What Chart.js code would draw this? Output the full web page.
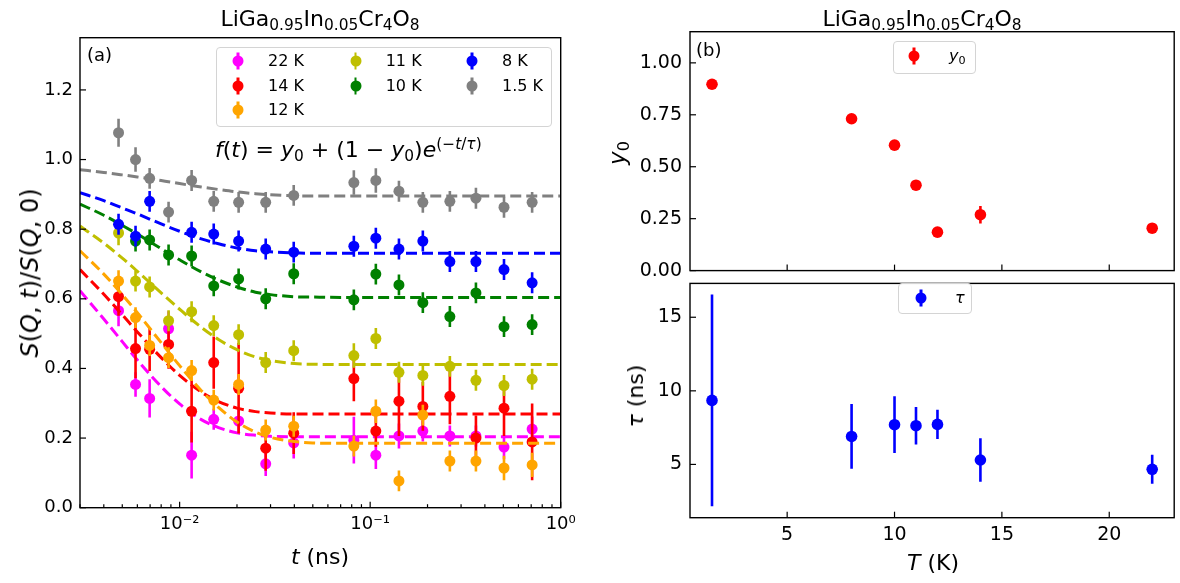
<!DOCTYPE html>
<html>
<head>
<meta charset="utf-8">
<script src="https://cdn.jsdelivr.net/npm/chart.js@4.4.0/dist/chart.umd.min.js"></script>
<style>
  body { margin: 0; background: #fff; font-family: 'DejaVu Sans', sans-serif; color: #000; }
  #wrap { position: relative; width: 1180px; height: 583px; overflow: hidden; background: #fff; }
  canvas { position: absolute; }
  .txt { position: absolute; white-space: nowrap; line-height: 1; }
  .c { transform: translate(-50%, -50%); }
  .l { transform: translate(0, -50%); }
  .rot { transform: translate(-50%, -50%) rotate(-90deg); }
  sub { font-size: 70%; vertical-align: -0.28em; line-height: 0; }
  sup { font-size: 70%; vertical-align: 0.55em; line-height: 0; }
  .legend { position: absolute; background: rgba(255,255,255,0.8); border: 1px solid #d4d4d4; border-radius: 4px; box-sizing: border-box; }
  .mk { position: absolute; width: 11px; height: 11px; border-radius: 50%; transform: translate(-50%, -50%); }
  .mk::before { content: ''; position: absolute; left: 4.25px; top: -3px; width: 2.5px; height: 17px; background: inherit; }
</style>
</head>
<body>
<div id="wrap">
  <canvas id="chartA" width="600" height="583" style="left:0;top:0"></canvas>
  <canvas id="chartB" width="580" height="290" style="left:600px;top:0"></canvas>
  <canvas id="chartC" width="580" height="319" style="left:600px;top:264px"></canvas>

  <div class="txt c" style="left:320px;top:19px;font-size:22px">LiGa<sub>0.95</sub>In<sub>0.05</sub>Cr<sub>4</sub>O<sub>8</sub></div>
  <div class="txt c" style="left:922px;top:19px;font-size:22px">LiGa<sub>0.95</sub>In<sub>0.05</sub>Cr<sub>4</sub>O<sub>8</sub></div>
  <div class="txt l" style="left:87px;top:55px;font-size:18px">(a)</div>
  <div class="txt l" style="left:696px;top:49.5px;font-size:18px">(b)</div>
  <div class="txt l" style="left:215px;top:150px;font-size:22px"><i>f</i>(<i>t</i>) = <i>y</i><sub>0</sub> + (1 − <i>y</i><sub>0</sub>)<i>e</i><sup>(−<i>t</i>/<i>τ</i>)</sup></div>
  <div class="txt rot" style="left:30px;top:272.7px;font-size:24px"><i>S</i>(<i>Q</i>, <i>t</i>)/<i>S</i>(<i>Q</i>, 0)</div>
  <div class="txt c" style="left:320px;top:557px;font-size:22px"><i>t</i> (ns)</div>
  <div class="txt rot" style="left:617px;top:152.9px;font-size:23px"><i>y</i><sub>0</sub></div>
  <div class="txt rot" style="left:636px;top:395.9px;font-size:22px"><i>τ</i> (ns)</div>
  <div class="txt c" style="left:933px;top:563px;font-size:22px"><i>T</i> (K)</div>

  <div id="legendA" class="legend" style="left:216px;top:46.7px;width:336px;height:80px"></div>
  <div class="legend" style="left:893px;top:40.7px;width:83px;height:33.3px"></div>
  <div class="legend" style="left:898px;top:283px;width:74px;height:31px"></div>
  <div id="legendMarks"></div>
</div>
<script>
// ---- panel (a): S(Q,t)/S(Q,0) vs t (ns) ----
const times = [0.00478, 0.00587, 0.00696, 0.00875, 0.01156, 0.0151, 0.0204, 0.0283, 0.0397,
               0.0821, 0.1071, 0.1416, 0.189, 0.262, 0.359, 0.504, 0.708];

const labels = ['22 K', '14 K', '12 K', '11 K', '10 K', '8 K', '1.5 K'];
const seriesColors = ['#ff00ff', '#ff0000', '#ffa500', '#bfbf00', '#008000', '#0000ff', '#808080'];

const s22 = [0.566, 0.354, 0.314, 0.514, 0.151, 0.254, 0.249, 0.126, 0.186, 0.194, 0.151, 0.206, 0.220, 0.206, 0.206, 0.174, 0.226];
const s14 = [0.606, 0.457, 0.455, 0.469, 0.277, 0.417, 0.343, 0.171, 0.214, 0.371, 0.220, 0.306, 0.291, 0.320, 0.200, 0.286, 0.189];
const s12 = [0.651, 0.546, 0.466, 0.431, 0.394, 0.309, 0.354, 0.223, 0.234, 0.177, 0.277, 0.077, 0.266, 0.134, 0.134, 0.114, 0.123];
const s11 = [0.789, 0.651, 0.634, 0.537, 0.563, 0.523, 0.497, 0.417, 0.451, 0.437, 0.486, 0.389, 0.380, 0.406, 0.366, 0.351, 0.369];
const s10 = [null, 0.766, 0.769, 0.726, 0.723, 0.637, 0.657, 0.600, 0.672, 0.597, 0.671, 0.640, 0.589, 0.549, 0.617, 0.520, 0.526];
const s8 = [0.814, 0.780, 0.880, null, 0.791, 0.786, 0.766, 0.743, 0.734, 0.751, 0.774, 0.743, 0.766, 0.707, 0.707, 0.684, 0.646];
const s15 = [1.077, 1.000, 0.946, 0.849, 0.940, 0.880, 0.877, 0.877, 0.897, 0.934, 0.940, 0.909, 0.877, 0.880, 0.889, 0.863, 0.877];

const e22 = [0.045, 0.035, 0.055, 0.05, 0.067, 0.03, 0.035, 0.035, 0.045, 0.067, 0.04, 0.036, 0.03, 0.03, 0.03, 0.035, 0.036];
const e14 = [0.055, 0.085, 0.062, 0.07, 0.09, 0.075, 0.13, 0.065, 0.06, 0.065, 0.045, 0.1, 0.07, 0.08, 0.065, 0.08, 0.11];
const e12 = [0.031, 0.03, 0.03, 0.03, 0.03, 0.03, 0.03, 0.03, 0.03, 0.03, 0.034, 0.03, 0.03, 0.03, 0.03, 0.035, 0.035];
const e11 = [0.035, 0.03, 0.03, 0.03, 0.03, 0.03, 0.03, 0.03, 0.03, 0.035, 0.03, 0.03, 0.03, 0.03, 0.03, 0.03, 0.03];
const e10 = [null, 0.03, 0.03, 0.03, 0.03, 0.03, 0.03, 0.03, 0.03, 0.03, 0.03, 0.03, 0.03, 0.03, 0.03, 0.03, 0.03];
const e8 = [0.03, 0.03, 0.03, null, 0.03, 0.03, 0.03, 0.03, 0.03, 0.03, 0.03, 0.03, 0.03, 0.03, 0.03, 0.03, 0.03];
const e15 = [0.04, 0.035, 0.03, 0.03, 0.03, 0.03, 0.03, 0.03, 0.03, 0.035, 0.035, 0.03, 0.03, 0.03, 0.03, 0.03, 0.03];

// dashed fit curves
const fitTimes = [0.003, 0.004, 0.005, 0.006, 0.008, 0.010, 0.013, 0.016, 0.020, 0.025, 0.030, 0.040, 0.050, 0.070, 0.1, 0.3, 1.0];
const f22 = [0.623, 0.542, 0.477, 0.424, 0.348, 0.298, 0.253, 0.230, 0.215, 0.208, 0.205, 0.204, 0.204, 0.204, 0.204, 0.204, 0.204];
const f14 = [0.684, 0.613, 0.554, 0.505, 0.431, 0.380, 0.332, 0.305, 0.286, 0.276, 0.272, 0.269, 0.269, 0.269, 0.269, 0.269, 0.269];
const f12 = [0.738, 0.671, 0.612, 0.560, 0.474, 0.408, 0.336, 0.288, 0.246, 0.217, 0.202, 0.190, 0.186, 0.185, 0.185, 0.185, 0.185];
const f11 = [0.809, 0.760, 0.717, 0.679, 0.617, 0.570, 0.518, 0.483, 0.454, 0.433, 0.423, 0.414, 0.412, 0.411, 0.411, 0.411, 0.411];
const f10 = [0.872, 0.840, 0.811, 0.786, 0.744, 0.712, 0.677, 0.654, 0.634, 0.619, 0.612, 0.606, 0.605, 0.604, 0.604, 0.604, 0.604];
const f8 = [0.905, 0.882, 0.861, 0.844, 0.815, 0.794, 0.772, 0.758, 0.746, 0.738, 0.735, 0.732, 0.731, 0.731, 0.731, 0.731, 0.731];
const f15 = [0.971, 0.963, 0.956, 0.950, 0.940, 0.931, 0.921, 0.914, 0.907, 0.902, 0.899, 0.896, 0.895, 0.895, 0.895, 0.895, 0.895];

const xTicksA = [0.01, 0.1, 1];
const xTickLabelsA = ['10⁻²', '10⁻¹', '10⁰'];
const xMinorA = [0.003, 0.004, 0.005, 0.006, 0.007, 0.008, 0.009, 0.02, 0.03, 0.04, 0.05, 0.06, 0.07, 0.08, 0.09,
                 0.2, 0.3, 0.4, 0.5, 0.6, 0.7, 0.8, 0.9];
const yTicksA = [0, 0.2, 0.4, 0.6, 0.8, 1.0, 1.2];

// ---- panel (b): fit parameters vs T ----
const temps = [1.5, 8, 10, 11, 12, 14, 22];
const y0Vals = [0.897, 0.731, 0.604, 0.411, 0.185, 0.269, 0.204];
const y0Errs = [0.01, 0.012, 0.012, 0.012, 0.012, 0.042, 0.02];
const tauVals = [9.35, 6.9, 7.7, 7.63, 7.72, 5.3, 4.67];
const tauErrs = [7.2, 2.2, 1.93, 1.28, 1.0, 1.48, 0.98];
const tTicks = [5, 10, 15, 20];
const y0Ticks = [0, 0.25, 0.5, 0.75, 1.0];
const tauTicks = [5, 10, 15];

Chart.defaults.font.family = "'DejaVu Sans', sans-serif";
Chart.defaults.color = '#000';

const errorBars = {
  id: 'errorBars',
  beforeDatasetDraw(chart, args) {
    const ds = chart.data.datasets[args.index];
    if (!ds.errors) return;
    const meta = args.meta;
    const yScale = chart.scales[meta.yAxisID];
    const a = chart.chartArea;
    const ctx = chart.ctx;
    ctx.save();
    ctx.beginPath();
    ctx.rect(a.left, a.top, a.right - a.left, a.bottom - a.top);
    ctx.clip();
    ctx.strokeStyle = ds.backgroundColor;
    ctx.lineWidth = 2.6;
    meta.data.forEach((pt, i) => {
      const v = ds.data[i].y;
      const e = ds.errors[i];
      if (v == null || e == null) return;
      ctx.beginPath();
      ctx.moveTo(pt.x, yScale.getPixelForValue(v - e));
      ctx.lineTo(pt.x, yScale.getPixelForValue(v + e));
      ctx.stroke();
    });
    ctx.restore();
  }
};

// full box + inward ticks, like the matplotlib frame
const frame = {
  id: 'frame',
  afterDraw(chart, args, opts) {
    const {ctx, chartArea: a} = chart;
    const xs = chart.scales.x, ys = chart.scales.y;
    ctx.save();
    ctx.strokeStyle = '#000';
    ctx.lineWidth = 1.2;
    const tick = (x1, y1, x2, y2) => { ctx.beginPath(); ctx.moveTo(x1, y1); ctx.lineTo(x2, y2); ctx.stroke(); };
    xs.ticks.forEach(t => { const p = xs.getPixelForValue(t.value); tick(p, a.bottom, p, a.bottom - 6); });
    (opts.xMinor || []).forEach(v => { const p = xs.getPixelForValue(v); tick(p, a.bottom, p, a.bottom - 3.5); });
    ys.ticks.forEach(t => { const p = ys.getPixelForValue(t.value); tick(a.left, p, a.left + 6, p); });
    ctx.lineWidth = 1.4;
    ctx.strokeRect(a.left, a.top, a.right - a.left, a.bottom - a.top);
    ctx.restore();
  }
};

function fixedTicks(list) {
  return scale => { scale.ticks = list.map(v => ({value: v})); };
}

// chart A datasets
const sVals = [s22, s14, s12, s11, s10, s8, s15];
const sErrs = [e22, e14, e12, e11, e10, e8, e15];
const sFits = [f22, f14, f12, f11, f10, f8, f15];
const datasetsA = [];
labels.forEach((lab, i) => {
  datasetsA.push({
    label: lab,
    data: times.map((t, j) => ({x: t, y: sVals[i][j]})),
    errors: sErrs[i],
    backgroundColor: seriesColors[i],
    borderColor: seriesColors[i],
    pointRadius: 5.5,
    pointBorderWidth: 0,
    order: 100 - 2 * i
  });
  datasetsA.push({
    label: lab + ' fit',
    data: fitTimes.map((t, j) => ({x: t, y: sFits[i][j]})),
    showLine: true,
    borderColor: seriesColors[i],
    borderWidth: 3,
    borderDash: [11, 5],
    pointRadius: 0,
    cubicInterpolationMode: 'monotone',
    order: 99 - 2 * i
  });
});

new Chart(document.getElementById('chartA'), {
  type: 'scatter',
  data: {datasets: datasetsA},
  options: {
    responsive: false, animation: false, devicePixelRatio: 1, events: [],
    layout: {padding: {top: 37.7, right: 39.3, left: 0, bottom: 0}},
    plugins: {legend: {display: false}, tooltip: {enabled: false}, frame: {xMinor: xMinorA}},
    scales: {
      x: {
        type: 'logarithmic', min: 0.003, max: 1,
        afterBuildTicks: fixedTicks(xTicksA),
        afterFit: s => { s.height = 75.3; },
        grid: {display: false, drawTicks: false}, border: {display: false},
        ticks: {callback: (v, i) => xTickLabelsA[i], font: {size: 18}, padding: 6, maxRotation: 0, autoSkip: false}
      },
      y: {
        min: 0, max: 1.35,
        afterBuildTicks: fixedTicks(yTicksA),
        afterFit: s => { s.width = 80; },
        grid: {display: false, drawTicks: false}, border: {display: false},
        ticks: {callback: v => v.toFixed(1), font: {size: 18}, padding: 7}
      }
    }
  },
  plugins: [errorBars, frame]
});

// chart B: y0
new Chart(document.getElementById('chartB'), {
  type: 'scatter',
  data: {datasets: [{
    label: 'y0',
    data: temps.map((t, i) => ({x: t, y: y0Vals[i]})),
    errors: y0Errs,
    backgroundColor: '#ff0000', borderColor: '#ff0000',
    pointRadius: 5.8, pointBorderWidth: 0
  }]},
  options: {
    responsive: false, animation: false, devicePixelRatio: 1, events: [],
    layout: {padding: {top: 31.7, right: 3, left: 0, bottom: 0}},
    plugins: {legend: {display: false}, tooltip: {enabled: false}},
    scales: {
      x: {
        min: 0.475, max: 23.025,
        afterBuildTicks: fixedTicks(tTicks),
        afterFit: s => { s.height = 16; },
        grid: {display: false, drawTicks: false}, border: {display: false},
        ticks: {display: false}
      },
      y: {
        min: 0, max: 1.15,
        afterBuildTicks: fixedTicks(y0Ticks),
        afterFit: s => { s.width = 90; },
        grid: {display: false, drawTicks: false}, border: {display: false},
        ticks: {callback: v => v.toFixed(2), font: {size: 19}, padding: 8}
      }
    }
  },
  plugins: [errorBars, frame]
});

// chart C: tau
new Chart(document.getElementById('chartC'), {
  type: 'scatter',
  data: {datasets: [{
    label: 'tau',
    data: temps.map((t, i) => ({x: t, y: tauVals[i]})),
    errors: tauErrs,
    backgroundColor: '#0000ff', borderColor: '#0000ff',
    pointRadius: 5.8, pointBorderWidth: 0
  }]},
  options: {
    responsive: false, animation: false, devicePixelRatio: 1, events: [],
    layout: {padding: {top: 10, right: 3, left: 0, bottom: 0}},
    plugins: {legend: {display: false}, tooltip: {enabled: false}},
    scales: {
      x: {
        min: 0.475, max: 23.025,
        afterBuildTicks: fixedTicks(tTicks),
        afterFit: s => { s.height = 65.3; },
        grid: {display: false, drawTicks: false}, border: {display: false},
        ticks: {callback: v => String(v), font: {size: 19}, padding: 6, maxRotation: 0}
      },
      y: {
        min: 1.38, max: 17.3,
        afterBuildTicks: fixedTicks(tauTicks),
        afterFit: s => { s.width = 90; },
        grid: {display: false, drawTicks: false}, border: {display: false},
        ticks: {callback: v => String(v), font: {size: 19}, padding: 8}
      }
    }
  },
  plugins: [errorBars, frame]
});

// legend markers and texts
const legendItemsA = [
  {i: 0, x: 238, y: 61}, {i: 1, x: 238, y: 86}, {i: 2, x: 238, y: 110},
  {i: 3, x: 355.7, y: 61}, {i: 4, x: 355.7, y: 86},
  {i: 5, x: 472, y: 61}, {i: 6, x: 472, y: 86}
];
const wrap = document.getElementById('legendMarks');
function addMark(x, y, color) {
  const m = document.createElement('div');
  m.className = 'mk';
  m.style.left = x + 'px'; m.style.top = y + 'px'; m.style.background = color;
  wrap.appendChild(m);
}
function addText(x, y, html, size) {
  const t = document.createElement('div');
  t.className = 'txt l';
  t.style.left = x + 'px'; t.style.top = y + 'px'; t.style.fontSize = size + 'px';
  t.innerHTML = html;
  wrap.appendChild(t);
}
legendItemsA.forEach(it => {
  addMark(it.x, it.y, seriesColors[it.i]);
  addText(it.x + 30, it.y, labels[it.i], 16);
});
addMark(914, 55.7, '#ff0000');
addText(949, 55.7, '<i>y</i><sub>0</sub>', 16);
addMark(921, 298, '#0000ff');
addText(955, 298, '<i>τ</i>', 16);
</script>
</body>
</html>
